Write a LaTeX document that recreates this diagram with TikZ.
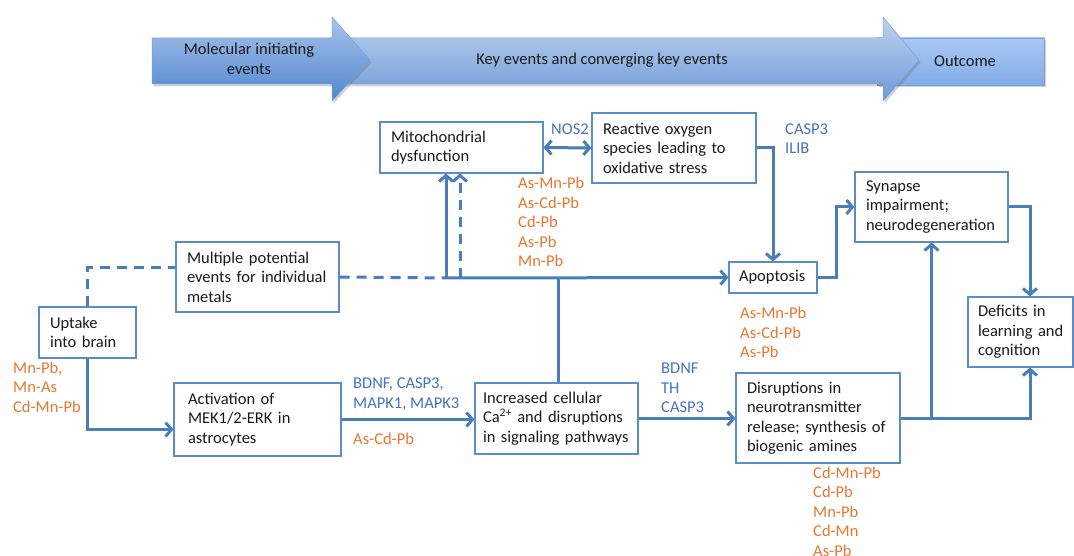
\documentclass[tikz,border=0pt]{standalone}
\usepackage{fontspec}
\setmainfont{Carlito}
\usetikzlibrary{arrows.meta,shadows,calc}
\definecolor{lineblue}{HTML}{4A7EBB}
\definecolor{boxblue}{HTML}{5B8BC9}
\definecolor{metal}{HTML}{E8772E}
\definecolor{gene}{HTML}{4472C4}
\definecolor{ink}{HTML}{1A1A1A}
\definecolor{bandedge}{HTML}{7C9FD4}
\definecolor{mieTop}{HTML}{A9C3EA}
\definecolor{mieBot}{HTML}{4F86D0}
\definecolor{keTop}{HTML}{BED2EE}
\definecolor{keBot}{HTML}{6D9AD8}
\definecolor{ocTop}{HTML}{A9C8F3}
\definecolor{ocBot}{HTML}{82ACE8}
\begin{document}
\begin{tikzpicture}[x=1pt,y=-1pt,
  every node/.style={font=\fontsize{16.5}{19.5}\selectfont, text=ink},
  box/.style={draw=boxblue, line width=1.1pt, fill=white, align=left,
    inner xsep=11pt, inner ysep=0pt},
  conn/.style={draw=lineblue, line width=3pt},
  dconn/.style={conn, dash pattern=on 10pt off 7pt},
  tip/.style={-{Straight Barb[length=6pt,width=14pt]}},
  bothtips/.style={{Straight Barb[length=6pt,width=14pt]}-{Straight Barb[length=6pt,width=14pt]}},
  metals/.style={anchor=west, align=left, text=metal, inner sep=0pt},
  genes/.style={anchor=west, align=left, text=gene, inner sep=0pt},
  band/.style={draw=bandedge, line width=0.5pt,
    drop shadow={shadow xshift=1.5pt, shadow yshift=-2.5pt, opacity=0.3, fill=black!60}},
  bandtext/.style={align=center, inner sep=0pt}
]
\useasboundingbox (0,0) rectangle (1074,556);
\clip (0,0) rectangle (1074,556);

% ---- stage banner: outcome box, key-event arrow, initiating arrow ----
\path[band, top color=ocTop, bottom color=ocBot]
  (877,38) rectangle (1044,85);
\path[band, top color=keTop, bottom color=keBot]
  (330,38) -- (883,38) -- (883,17) -- (919,60) -- (883,101) -- (883,84) -- (330,84) -- cycle;
\path[band, top color=mieTop, bottom color=mieBot]
  (152,38) -- (332,38) -- (332,17) -- (370,60) -- (332,101) -- (332,84) -- (152,84) -- cycle;
\node[bandtext] (mie) at (249,59) {Molecular initiating\\events};
\node[bandtext] (ke) at (602,60) {Key events and converging key events};
\node[bandtext] (oc) at (965,61) {Outcome};

% ---- event boxes ----
\node[box, text width=141pt, minimum height=51pt] (mito) at (461.5,147.5) {Mitochondrial\\dysfunction};
\node[box, text width=142pt, minimum height=70pt] (ros) at (674,148) {Reactive oxygen\\species leading to\\oxidative stress};
\node[box, text width=141pt, minimum height=70pt] (multi) at (257.5,277) {Multiple potential\\events for individual\\metals};
\node[box, text width=75pt, minimum height=51pt] (uptake) at (87.5,332.5) {Uptake\\into brain};
\node[box, inner xsep=10pt, text width=68pt, minimum height=31pt] (apop) at (773,277.5) {Apoptosis};
\node[box, text width=131pt, minimum height=70pt] (syn) at (931.5,207) {Synapse\\impairment;\\neurodegeneration};
\node[box, inner xsep=10pt, text width=85pt, minimum height=70pt] (def) at (1020.5,332) {Deficits in\\\mbox{learning and}\\cognition};
\node[box, text width=142pt, minimum height=90pt] (dis) at (818,418) {Disruptions in\\neurotransmitter\\release; synthesis of\\biogenic amines};
\node[box, inner xsep=14pt, text width=139pt, minimum height=73pt] (mek) at (257.5,419.5) {Activation of\\MEK1/2-ERK in\\astrocytes};
\node[box, inner xsep=8pt, text width=147pt, minimum height=71pt] (ca) at (556.5,418.5) {Increased cellular\\Ca\textsuperscript{2+} and disruptions\\in signaling pathways};

% ---- junction points ----
\coordinate (J) at (446,278);
\coordinate (J2) at (460,278);
\coordinate (K) at (558,278);
\coordinate (dx) at (1030,0);

% ---- connectors ----
\draw[dconn] (uptake.north) |- ([yshift=9pt]multi.west);
\draw[dconn] (multi.east) -- (J);
\draw[conn, tip] (J) -- (J |- mito.south);
\draw[dconn, tip] (J2) -- (J2 |- mito.south);
\draw[conn, tip] (J) -- (apop.west);
\draw[conn] (K) -- (K |- ca.north);
\draw[conn, bothtips] (mito.east) -- (ros.west);
\draw[conn, tip] (ros.east) -| (apop.north);
\draw[conn, tip] (apop.east) -- ++(19,0) |- (syn.west);
\draw[conn, tip] (syn.east) -| (dx |- def.north);
\draw[conn, tip] (dis.east) -| (syn.south);
\draw[conn, tip] (dis.east) -| (dx |- def.south);
\draw[conn, tip] (uptake.south) |- ([yshift=-10pt]mek.west);
\draw[conn, tip] (mek.east) -- (mek.east -| ca.west);
\draw[conn, tip] (ca.east) -- (ca.east -| dis.west);

% ---- gene and metal-mixture labels ----
\node[genes] (nos) at (551,129) {NOS2};
\node[genes] (casp) at (785,138.5) {CASP3\\ILIB};
\node[metals] (mitomix) at (518,222) {As-Mn-Pb\\As-Cd-Pb\\Cd-Pb\\As-Pb\\Mn-Pb};
\node[metals] (apopmix) at (740,332.5) {As-Mn-Pb\\As-Cd-Pb\\As-Pb};
\node[metals] (upmix) at (13,387) {Mn-Pb,\\Mn-As\\Cd-Mn-Pb};
\node[genes] (mekgenes) at (353,394) {BDNF, CASP3,\\MAPK1, MAPK3};
\node[metals] (mekmix) at (353,439) {As-Cd-Pb};
\node[genes] (cagenes) at (661,388) {BDNF\\TH\\CASP3};
\node[metals] (dismix) at (813,511.5) {Cd-Mn-Pb\\Cd-Pb\\Mn-Pb\\Cd-Mn\\As-Pb};
\end{tikzpicture}
\end{document}
